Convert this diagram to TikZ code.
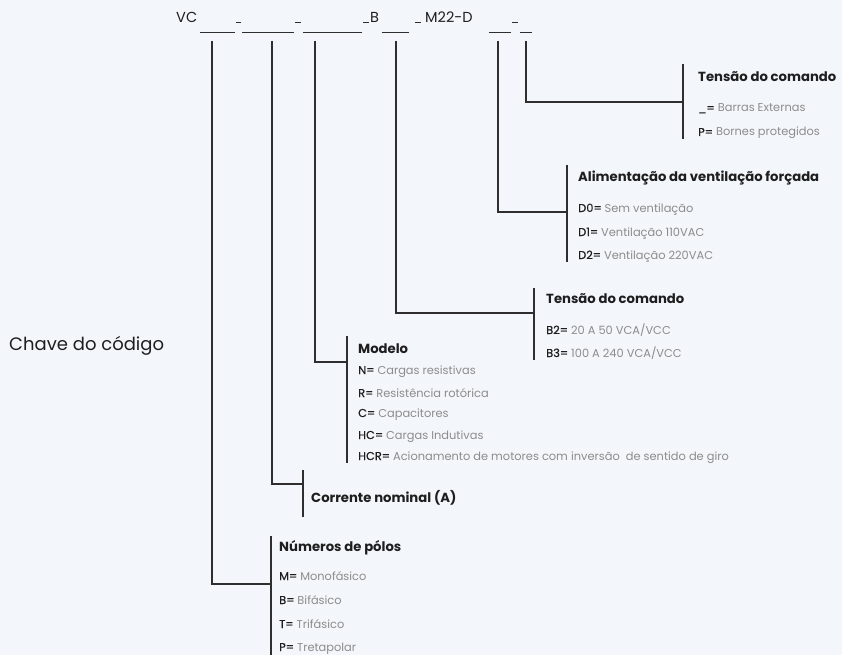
\documentclass[tikz,border=0pt]{standalone}
\usepackage{fontspec}
\setmainfont{Poppins}
\usepackage{xcolor}
\usepackage{tikz}
\usetikzlibrary{calc}

\definecolor{keybg}{HTML}{F3F6FA}
\definecolor{keyline}{HTML}{2E2E2E}
\definecolor{keydark}{HTML}{1E1E1E}
\definecolor{keygray}{HTML}{8C8C8C}

\newcommand{\opt}[2]{\textcolor{keydark}{\addfontfeatures{FakeBold=0.6}#1}\ \textcolor{keygray}{#2}}

\tikzset{
    keyline/.style={draw=keyline, line width=1.3pt},
    codetxt/.style={anchor=base west, inner sep=0pt, font=\fontsize{14.5}{17}\selectfont, text=keydark},
    grptitle/.style={anchor=base west, inner sep=0pt, font=\fontsize{13.2}{16}\selectfont\bfseries, text=keydark},
    grpitem/.style={anchor=base west, inner sep=0pt, font=\fontsize{11.4}{13}\selectfont},
}

\begin{document}
\begin{tikzpicture}[x=1pt, y=-1pt]
    \fill[keybg] (0,0) rectangle (842,655);
    \useasboundingbox (0,0) rectangle (842,655);

    % code line
    \node[codetxt] (vc) at (176,23) {VC};
    \node[codetxt] (bb) at (370,23) {B};
    \node[codetxt] (md) at (425,23) {M22-D};
    \draw[keyline, line width=1pt] (200,33) -- (235,33);
    \draw[keyline, line width=1pt] (236,23) -- (241,23);
    \draw[keyline, line width=1pt] (242,33) -- (294,33);
    \draw[keyline, line width=1pt] (295,23) -- (301,23);
    \draw[keyline, line width=1pt] (303,33) -- (362,33);
    \draw[keyline, line width=1pt] (363,23) -- (369,23);
    \draw[keyline, line width=1pt] (382,33) -- (409,33);
    \draw[keyline, line width=1pt] (415,23) -- (421,23);
    \draw[keyline, line width=1pt] (489,33) -- (511,33);
    \draw[keyline, line width=1pt] (512,23) -- (518,23);
    \draw[keyline, line width=1pt] (520,33) -- (532,33);

    \coordinate (pol) at (212,41);
    \coordinate (cor) at (272,41);
    \coordinate (mod) at (315,41);
    \coordinate (btc) at (396,41);
    \coordinate (ali) at (498,41);
    \coordinate (ptc) at (526,41);

    \node[anchor=base west, inner sep=0pt, font=\fontsize{18}{21}\selectfont, text=keydark] (chave) at (9,350) {Chave do código};

    % Tensão do comando (P)
    \coordinate (ptctop) at (683,64);
    \coordinate (ptcbot) at (683,139);
    \coordinate (ptcmid) at (683,102);
    \draw[keyline] (ptctop) -- (ptcbot);
    \draw[keyline] (ptc) |- (ptcmid);
    \node[grptitle] (ptctit) at (698,82) {Tensão do comando};
    \node[grpitem] (ptc1) at (698,112) {\opt{\_=}{Barras Externas}};
    \node[grpitem] (ptc2) at (698,136) {\opt{P=}{Bornes protegidos}};

    % Alimentação da ventilação forçada
    \coordinate (alitop) at (567,165);
    \coordinate (alibot) at (567,262);
    \coordinate (alimid) at (567,212);
    \draw[keyline] (alitop) -- (alibot);
    \draw[keyline] (ali) |- (alimid);
    \node[grptitle] (alitit) at (578,182) {Alimentação da ventilação forçada};
    \node[grpitem] (ali1) at (578,212) {\opt{D0=}{Sem ventilação}};
    \node[grpitem] (ali2) at (578,236) {\opt{D1=}{Ventilação 110VAC}};
    \node[grpitem] (ali3) at (578,259) {\opt{D2=}{Ventilação 220VAC}};

    % Tensão do comando (B)
    \coordinate (btctop) at (534,288);
    \coordinate (btcbot) at (534,360);
    \coordinate (btcmid) at (534,313);
    \draw[keyline] (btctop) -- (btcbot);
    \draw[keyline] (btc) |- (btcmid);
    \node[grptitle] (btctit) at (546,303) {Tensão do comando};
    \node[grpitem] (btc1) at (546,334) {\opt{B2=}{20 A 50 VCA/VCC}};
    \node[grpitem] (btc2) at (546,357) {\opt{B3=}{100 A 240 VCA/VCC}};

    % Modelo
    \coordinate (modtop) at (347,336);
    \coordinate (modbot) at (347,463);
    \coordinate (modmid) at (347,362);
    \draw[keyline] (modtop) -- (modbot);
    \draw[keyline] (mod) |- (modmid);
    \node[grptitle] (modtit) at (358,353) {Modelo};
    \node[grpitem] (mod1) at (358,374) {\opt{N=}{Cargas resistivas}};
    \node[grpitem] (mod2) at (358,397) {\opt{R=}{Resistência rotórica}};
    \node[grpitem] (mod3) at (358,417) {\opt{C=}{Capacitores}};
    \node[grpitem] (mod4) at (358,439) {\opt{HC=}{Cargas Indutivas}};
    \node[grpitem] (mod5) at (358,460) {\opt{HCR=}{Acionamento de motores com inversão\ \ de sentido de giro}};

    % Corrente nominal
    \coordinate (cortop) at (303,470);
    \coordinate (corbot) at (303,517);
    \coordinate (cormid) at (303,484);
    \draw[keyline] (cortop) -- (corbot);
    \draw[keyline] (cor) |- (cormid);
    \node[grptitle] (cortit) at (311,502) {Corrente nominal (A)};

    % Números de pólos
    \coordinate (poltop) at (271,536);
    \coordinate (polbot) at (271,655);
    \coordinate (polmid) at (271,584);
    \draw[keyline] (poltop) -- (polbot);
    \draw[keyline] (pol) |- (polmid);
    \node[grptitle] (poltit) at (279,551) {Números de pólos};
    \node[grpitem] (pol1) at (279,580) {\opt{M=}{Monofásico}};
    \node[grpitem] (pol2) at (279,604) {\opt{B=}{Bifásico}};
    \node[grpitem] (pol3) at (279,628) {\opt{T=}{Trifásico}};
    \node[grpitem] (pol4) at (279,651) {\opt{P=}{Tretapolar}};
\end{tikzpicture}
\end{document}
